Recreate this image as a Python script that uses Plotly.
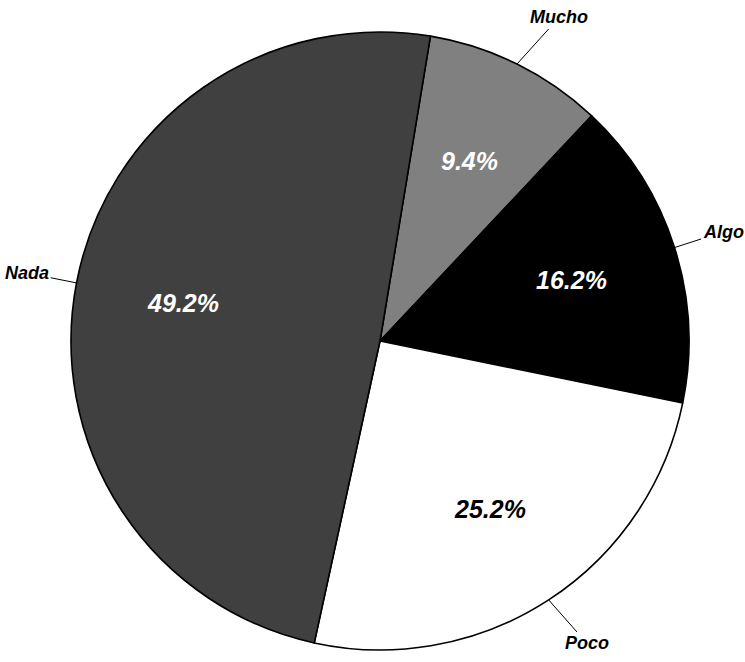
import math
import plotly.graph_objects as go

labels = ["Mucho", "Algo", "Poco", "Nada"]
values = [9.4, 16.2, 25.2, 49.2]
colors = ["#808080", "#000000", "#ffffff", "#404040"]
pct_colors = ["white", "white", "black", "white"]

W, H = 745, 662
cx_px, cy_px = 380, 341
R = 309
rotation = 9.4

cx = cx_px / W
cy = 1 - cy_px / H
hw = R / W
hh = R / H

fig = go.Figure(go.Pie(
    labels=labels,
    values=values,
    sort=False,
    direction="clockwise",
    rotation=rotation,
    marker=dict(colors=colors, line=dict(color="black", width=1.6)),
    textinfo="none",
    hoverinfo="label+percent",
    domain=dict(x=[cx - hw, cx + hw], y=[cy - hh, cy + hh]),
    showlegend=False,
))

total = sum(values)
annotations = []
start = rotation
font_lab = dict(family="Liberation Sans, Arial", size=18, color="black", weight="bold", style="italic")
for lab, v, pc in zip(labels, values, pct_colors):
    ang = start + v / total * 360 / 2
    start += v / total * 360
    s, c = math.sin(math.radians(ang)), math.cos(math.radians(ang))
    # percentage inside
    rr = 0.65 * R
    annotations.append(dict(
        x=cx + rr * s / W, y=cy + rr * c / H, xref="paper", yref="paper",
        xanchor="center", yanchor="middle",
        text=f"{v / total * 100:.1f}%", showarrow=False,
        font=dict(family="Liberation Sans, Arial", size=25, color=pc, weight="bold", style="italic"),
    ))
    # outside label with leader line
    L = 25
    halfw = len(lab) * 6.2
    ex, ey = cx + R * s / W, cy + R * c / H
    annotations.append(dict(
        x=ex, y=ey, xref="paper", yref="paper",
        text=lab, showarrow=True, arrowhead=0, arrowwidth=1, arrowcolor="black",
        ax=L * s + (halfw if s > 0 else -halfw),
        ay=-52 * c,
        standoff=0, startstandoff=0,
        font=font_lab,
    ))

fig.update_layout(
    width=W, height=H,
    margin=dict(l=0, r=0, t=0, b=0),
    paper_bgcolor="white", plot_bgcolor="white",
    annotations=annotations,
)

fig.write_html("out.html", config={"displayModeBar": False},
               post_script="document.body.style.margin='0';")
